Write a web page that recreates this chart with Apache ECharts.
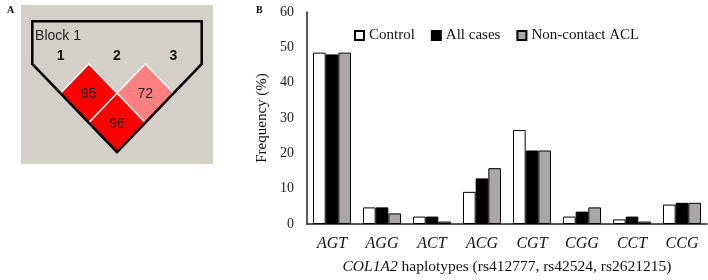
<!DOCTYPE html>
<html>
<head>
<meta charset="utf-8">
<script src="https://cdn.jsdelivr.net/npm/echarts@6/dist/echarts.min.js"></script>
<style>
  html, body { margin: 0; padding: 0; background: #fff; }
  #main { width: 708px; height: 280px; }
</style>
</head>
<body>
<div id="main"></div>
<script>
// panel B: haplotype frequencies (%)
const haplotypes = ['AGT', 'AGG', 'ACT', 'ACG', 'CGT', 'CGG', 'CCT', 'CCG'];
const control = [48.5, 4.7, 2.1, 9.1, 26.6, 2.1, 1.3, 5.5];
const allCases = [48.0, 4.7, 2.1, 12.9, 20.8, 3.5, 2.1, 6.0];
const nonContact = [48.5, 3.0, 0.7, 15.8, 20.8, 4.7, 0.7, 6.0];
const seriesNames = ['Control', 'All cases', 'Non-contact ACL'];

// panel A: LD block (marker i, marker j, D')
const markers = [1, 2, 3];
const ldCells = [
  [1, 2, 95],
  [2, 3, 72],
  [1, 3, 96],
];

const serif = '"Liberation Serif", "Times New Roman", serif';
const sans = '"Liberation Sans", Arial, sans-serif';

const ldColor = (v) => (v >= 90 ? '#ff0000' : '#ff8080');

const chart = echarts.init(document.getElementById('main'));

// 单元格: 菱形, 中心 ((i+j)/2, j-i)
function renderCell(params, api) {
  const i = api.value(0);
  const j = api.value(1);
  const cx = (i + j) / 2;
  const cy = j - i;
  const pts = [
    api.coord([cx, cy - 1]),
    api.coord([cx + 0.5, cy]),
    api.coord([cx, cy + 1]),
    api.coord([cx - 0.5, cy]),
  ];
  const c = api.coord([cx, cy]);
  return {
    type: 'group',
    children: [
      {
        type: 'polygon',
        shape: { points: pts },
        style: { fill: ldColor(api.value(2)), stroke: '#f2f2f2', lineWidth: 1.5 },
      },
      {
        type: 'text',
        x: c[0],
        y: c[1] + 1,
        style: {
          text: String(api.value(2)),
          fill: '#222',
          font: '14px ' + sans,
          align: 'center',
          verticalAlign: 'middle',
        },
      },
    ],
  };
}

// 外框: 顶部矩形 + 三角形
function renderOutline(params, api) {
  const first = markers[0];
  const last = markers[markers.length - 1];
  const n = markers.length;
  const top = -1.45;
  const pts = [
    [first - 0.5, top],
    [last + 0.5, top],
    [last + 0.5, 0],
    [(first + last) / 2, n],
    [first - 0.5, 0],
  ].map((p) => api.coord(p));
  const children = [
    {
      type: 'polygon',
      shape: { points: pts },
      style: { fill: 'none', stroke: '#000', lineWidth: 2.5 },
      z2: 10,
    },
    {
      type: 'text',
      x: api.coord([first - 0.45, top])[0],
      y: api.coord([first, top + 0.5])[1],
      style: { text: 'Block 1', fill: '#222', font: '14px ' + sans, verticalAlign: 'middle' },
    },
  ];
  markers.forEach((m) => {
    const p = api.coord([m, -0.25]);
    children.push({
      type: 'text',
      x: p[0],
      y: p[1],
      style: {
        text: String(m),
        fill: '#111',
        font: 'bold 14px ' + sans,
        align: 'center',
        verticalAlign: 'middle',
      },
    });
  });
  return { type: 'group', children };
}

const barSeries = [control, allCases, nonContact].map((data, k) => ({
  name: seriesNames[k],
  type: 'bar',
  xAxisIndex: 0,
  yAxisIndex: 0,
  data,
  barGap: '0%',
  barCategoryGap: '24%',
  itemStyle: {
    color: ['#ffffff', '#000000', '#aaa6a6'][k],
    borderColor: '#000',
    borderWidth: 1,
  },
}));

chart.setOption({
  animation: false,
  textStyle: { fontFamily: serif },
  grid: [
    { left: 307, right: 1, top: 12, bottom: 53 },
    {
      left: 21, top: 5, width: 192, height: 159,
      show: true, backgroundColor: '#d4d0c8', borderWidth: 0,
    },
  ],
  title: [
    { text: 'A', left: 2, top: 0, textStyle: { fontFamily: serif, fontSize: 10, fontWeight: 'bold', color: '#000' } },
    { text: 'B', left: 251, top: 0, textStyle: { fontFamily: serif, fontSize: 10, fontWeight: 'bold', color: '#000' } },
  ],
  legend: {
    left: 349,
    top: 23,
    data: seriesNames,
    icon: 'rect',
    itemWidth: 9,
    itemHeight: 9,
    itemGap: 16,
    textStyle: { fontFamily: serif, fontSize: 15, color: '#111' },
  },
  xAxis: [
    {
      type: 'category',
      gridIndex: 0,
      data: haplotypes,
      axisLine: { lineStyle: { color: '#222', width: 1.5 } },
      axisTick: { show: false },
      axisLabel: {
        margin: 12,
        fontFamily: serif,
        fontSize: 16,
        fontStyle: 'italic',
        color: '#111',
      },
      name: '{i|COL1A2} haplotypes (rs412777, rs42524, rs2621215)',
      nameLocation: 'middle',
      nameGap: 35,
      nameTextStyle: {
        fontFamily: serif,
        fontSize: 15.5,
        color: '#111',
        rich: { i: { fontFamily: serif, fontSize: 15.5, fontStyle: 'italic', color: '#111' } },
      },
    },
    { type: 'value', gridIndex: 1, min: 0.3, max: 3.7, show: false },
  ],
  yAxis: [
    {
      type: 'value',
      gridIndex: 0,
      min: 0,
      max: 60,
      interval: 10,
      axisLine: { show: true, lineStyle: { color: '#222', width: 1.5 } },
      axisTick: { show: false },
      splitLine: { show: false },
      axisLabel: { margin: 13, fontFamily: serif, fontSize: 14, color: '#222' },
      name: 'Frequency (%)',
      nameLocation: 'middle',
      nameGap: 34,
      nameTextStyle: { fontFamily: serif, fontSize: 15, color: '#111' },
    },
    { type: 'value', gridIndex: 1, min: -2, max: 3.4, inverse: true, show: false },
  ],
  series: [
    ...barSeries,
    {
      type: 'custom',
      xAxisIndex: 1,
      yAxisIndex: 1,
      data: ldCells,
      renderItem: renderCell,
      silent: true,
      z: 2,
    },
    {
      type: 'custom',
      xAxisIndex: 1,
      yAxisIndex: 1,
      data: [0],
      renderItem: renderOutline,
      silent: true,
      z: 3,
    },
  ],
});
</script>
</body>
</html>
